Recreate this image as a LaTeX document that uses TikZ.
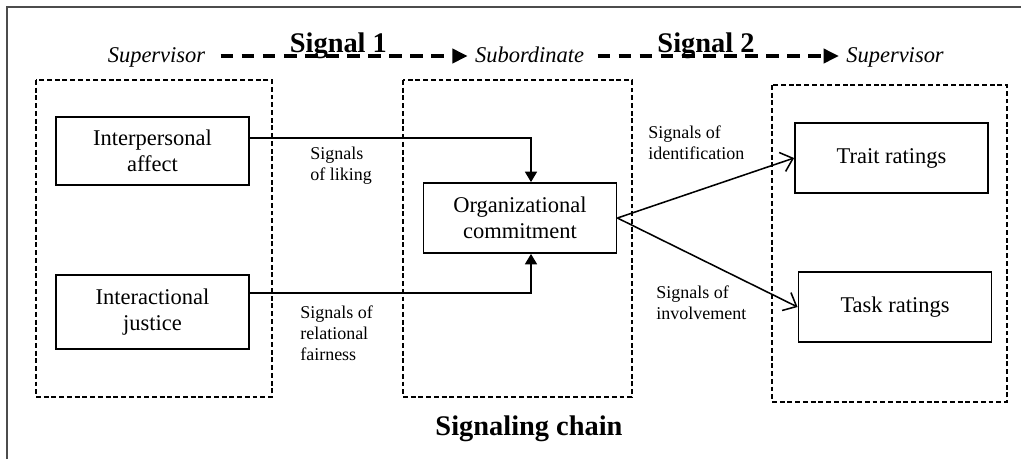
\documentclass[tikz,border=0pt]{standalone}
\usepackage{fontspec}
\setmainfont{Liberation Serif}
\usetikzlibrary{positioning, arrows.meta}
\tikzset{
    box/.style={draw, line width=1.3pt, minimum width=4.825cm, minimum height=1.75cm, align=center, font=\fontsize{16}{18.5}\selectfont}, % solid construct boxes
    group/.style={draw, line width=1pt, dash pattern=on 3.5pt off 2pt}, % dashed frames round the stages
    cue/.style={inner sep=0pt, align=left, font=\fontsize{12.8}{15}\selectfont}, % small connector labels
    role/.style={text height=11pt, text depth=2.4pt, font=\fontsize{16}{18}\selectfont\itshape},
    head/.style={anchor=base, font=\fontsize{20.2}{22}\selectfont\bfseries},
    flow/.style={line width=2.5pt, dash pattern=on 9pt off 6pt, -{Triangle[length=3.8mm,width=3.5mm]}}, % signal direction
    feed/.style={line width=1.1pt, -{Triangle[length=2.6mm,width=3mm]}},
    send/.style={line width=1.1pt, -{Straight Barb[length=2.8mm,width=5mm]}},
    }

\begin{document}
\begin{tikzpicture}
    \useasboundingbox (0,0) rectangle (25.525,-11.475);
    \draw[black!70, line width=0.8pt] (0.175,-11.475) -- (0.175,-0.175) -- (25.525,-0.175);

    % top row
    \node[role] (sup1) at (3.9125,-1.4) {Supervisor};
    \node[role] (sub) at (13.24,-1.4) {Subordinate};
    \node[role] (sup2) at (22.375,-1.4) {Supervisor};
    \node[head] (sig1) at (8.46,-1.3) {Signal 1};
    \node[head] (sig2) at (17.65,-1.3) {Signal 2};
    \draw[flow, shorten <=0.26cm, shorten >=0.06cm] (sup1) -- (sub);
    \draw[flow, shorten <=0.21cm, shorten >=0.06cm] (sub) -- (sup2);

    % stages
    \draw[group] (0.9,-2.0) rectangle (6.8,-9.925);
    \draw[group] (10.075,-2.0) rectangle (15.8,-9.925);
    \draw[group] (19.3,-2.125) rectangle (25.175,-10.05);

    \node[box, minimum height=1.7cm] (aff) at (3.8125,-3.775) {Interpersonal\\affect};
    \node[box, minimum height=1.85cm] (jus) at (3.8125,-7.8) {Interactional\\justice};
    \node[box] (org) at (13.0,-5.45) {Organizational\\commitment};
    \node[box] (trt) at (22.2875,-3.95) {Trait ratings};
    \node[box] (tsk) at (22.375,-7.675) {Task ratings};

    \draw[feed] ([yshift=0.325cm]aff.east) -| ([xshift=0.275cm]org.north);
    \draw[feed] ([yshift=0.475cm]jus.east) -| ([xshift=0.275cm]org.south);
    \draw[send] (org.east) -- (trt.west);
    \draw[send] (org.east) -- (tsk.west);

    \node[cue, anchor=west] (lik) at (7.75,-4.15) {Signals\\of liking};
    \node[cue, anchor=west] (fair) at (7.5,-8.325) {Signals of\\relational\\fairness};
    \node[cue, anchor=west] (idn) at (16.2,-3.575) {Signals of\\identification};
    \node[cue, anchor=west] (inv) at (16.4,-7.575) {Signals of\\involvement};

    \node[head] (chain) at (13.225,-10.875) {Signaling chain};
\end{tikzpicture}
\end{document}
